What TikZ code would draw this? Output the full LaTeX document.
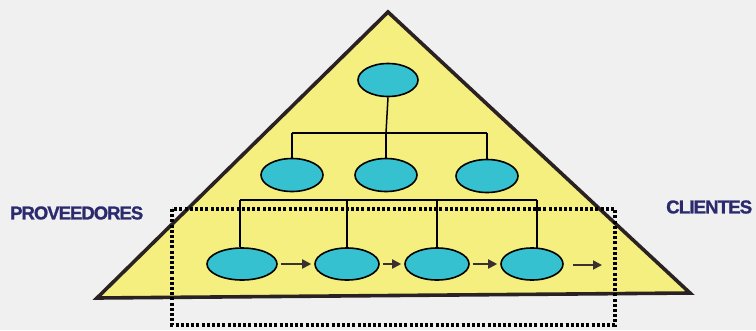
\documentclass[tikz,border=0pt]{standalone}
\usepackage{fontspec}
\setmainfont{Liberation Sans}
\newfontfamily\lblfont[FakeBold=1.2,LetterSpace=-5]{Liberation Sans Bold}
\usetikzlibrary{shapes.geometric,arrows.meta}
\definecolor{bgc}{HTML}{F0F0F0}
\definecolor{pyr}{HTML}{F4EF7E}
\definecolor{ell}{HTML}{35C1CF}
\definecolor{navy}{HTML}{2B2A6E}
\definecolor{arr}{HTML}{3A3030}
\definecolor{edge}{HTML}{2A2222}
\tikzset{
  unit/.style={ellipse,draw=black,line width=1.6pt,fill=ell,inner sep=0pt,minimum width=62pt,minimum height=33pt},
  link/.style={draw=black,line width=1.5pt},
  flow/.style={draw=arr,line width=1.8pt,-{Triangle[length=9pt,width=9pt]}},
  lbl/.style={font=\lblfont\fontsize{18}{18}\selectfont,text=navy,inner sep=0pt},
  box/.style={draw=black,line width=3.2pt,dash pattern=on 3pt off 2.2pt}
}
\begin{document}
\begin{tikzpicture}[x=1pt,y=-1pt]
\useasboundingbox[fill=bgc] (0,0) rectangle (756,330);
% pyramid
\coordinate (apex) at (388,12);
\coordinate (bl) at (97,298);
\coordinate (br) at (690,293);
\draw[fill=pyr,draw=edge,line width=3.6pt,line join=miter] (apex) -- (br) -- (bl) -- cycle;
% upper tree
\node[unit,minimum width=60pt] (top) at (388,80) {};
\node[unit] (m1) at (292,175) {};
\node[unit] (m2) at (386,175) {};
\node[unit] (m3) at (487,176) {};
\coordinate (j0) at (386,133);
\coordinate (j1) at (292,133);
\coordinate (j3) at (487,133);
\draw[link] (top.south) -- (j0);
\draw[link] (j1) -- (j3);
\draw[link] (j1) -- (m1.north);
\draw[link] (j0) -- (m2.north);
\draw[link] (j3) -- (m3.north);
% lower chain
\node[unit,minimum width=70pt,minimum height=32pt] (b1) at (242,264) {};
\node[unit,minimum width=64pt,minimum height=32pt] (b2) at (347,264) {};
\node[unit,minimum width=64pt,minimum height=32pt] (b3) at (437,264) {};
\node[unit,minimum width=62pt,minimum height=32pt] (b4) at (532,264) {};
\coordinate (k1) at (240,200);
\coordinate (k2) at (347,200);
\coordinate (k3) at (437,200);
\coordinate (k4) at (537,200);
\draw[link] (k1) -- (k4);
\draw[link] (k1) -- (b1.north -| k1);
\draw[link] (k2) -- (b2.north);
\draw[link] (k3) -- (b3.north);
\draw[link] (k4) -- (537,249);
\draw[flow] ([xshift=3pt]b1.east) -- ([xshift=-3pt]b2.west);
\draw[flow] ([xshift=3pt]b2.east) -- ([xshift=-3pt]b3.west);
\draw[flow] ([xshift=3pt]b3.east) -- ([xshift=-3pt]b4.west);
\coordinate (out) at (602,265);
\draw[flow] (573,265) -- (out);
% dotted boundary
\draw[box] (172,209) rectangle (615,325);
% labels
\node[lbl,anchor=west] (prov) at (10,213) {\resizebox{133pt}{13pt}{PROVEEDORES}};
\node[lbl,anchor=west] (cli) at (666,207) {\resizebox{86pt}{13pt}{CLIENTES}};
\end{tikzpicture}
\end{document}
